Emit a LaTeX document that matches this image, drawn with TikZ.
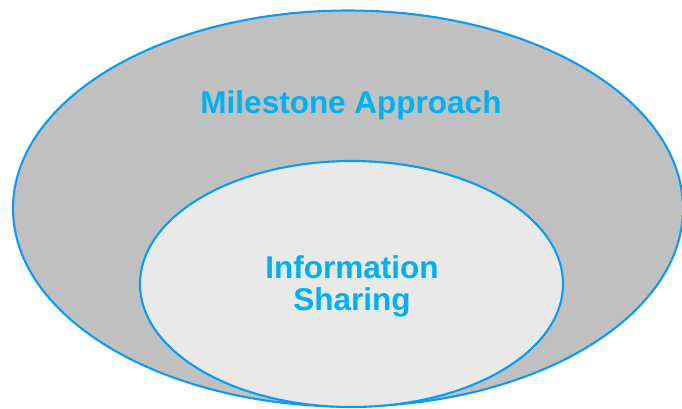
\documentclass[tikz,border=0pt]{standalone}
\usepackage{fontspec}
\setmainfont{Liberation Sans}
\definecolor{rimblue}{HTML}{0A9BF5}
\definecolor{labelblue}{HTML}{00B0F0}
\definecolor{outergray}{HTML}{C0C0C0}
\definecolor{innergray}{HTML}{E9E9E9}
\tikzset{
  ring/.style={draw=rimblue, line width=2.1pt},
  label/.style={text=labelblue, font=\fontsize{31.5}{32}\selectfont\bfseries, inner sep=0pt, align=center}
}
\begin{document}
\begin{tikzpicture}[x=1pt,y=-1pt]
  \useasboundingbox (0,0) rectangle (682,408);
  \begin{scope}
    \clip (0,0) rectangle (682,408);
    \draw[ring, fill=outergray] (348,208.5) ellipse [x radius=335, y radius=198];
    \draw[ring, fill=innergray] (351.5,284) ellipse [x radius=211.5, y radius=123];
  \end{scope}
  \node[label, anchor=base] (milestone) at (351,113) {Milestone Approach};
  \node[label] (sharing) at (352,286) {Information\\Sharing};
\end{tikzpicture}
\end{document}
